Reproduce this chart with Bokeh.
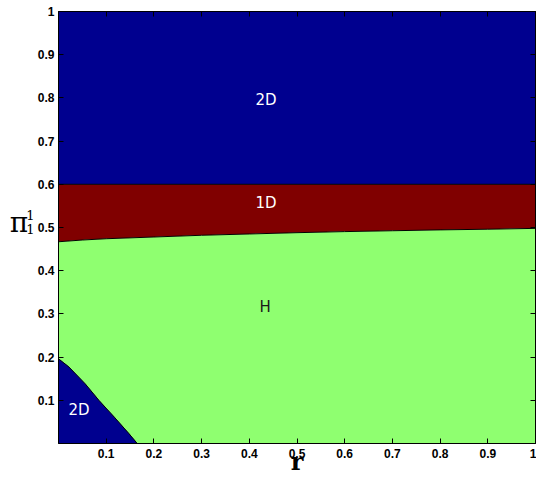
from bokeh.plotting import figure
from bokeh.models import Range1d, FixedTicker, LinearAxis
from bokeh.layouts import row
from bokeh.embed import file_html
from bokeh.resources import INLINE
from bokeh.core.properties import value
import numpy as np

# ---- data ----
R_LIMITS = [0.0, 1.0]
PI_TOP = [1.0, 1.0]
PI_2D_1D = [0.6, 0.6]            # boundary between upper 2D and 1D

R_BOUND = [0.0, 0.05, 0.1, 0.2, 0.3, 0.4, 0.5, 0.6, 0.7, 0.8, 0.9, 1.0]
PI_1D_H = [0.467, 0.471, 0.474, 0.478, 0.482, 0.485, 0.488, 0.4905, 0.4925, 0.4945, 0.496, 0.498]

R_CORNER = [0.0, 0.022, 0.056, 0.085, 0.117, 0.148, 0.165]
PI_CORNER = [0.196, 0.177, 0.138, 0.0995, 0.061, 0.0224, 0.0]

TICKS = [0.1, 0.2, 0.3, 0.4, 0.5, 0.6, 0.7, 0.8, 0.9, 1.0]
TICK_LABELS = ["0.1", "0.2", "0.3", "0.4", "0.5", "0.6", "0.7", "0.8", "0.9", "1"]

REGION_NAMES = ["2D", "1D", "H", "2D"]
REGION_R = [0.435, 0.435, 0.433, 0.043]
REGION_PI = [0.795, 0.557, 0.316, 0.077]
REGION_COLORS = ["white", "white", "#1a1a1a", "white"]

X_LABEL = "r"
Y_LABEL = ["π", "1", "1"]   # pi with superscript 1 and subscript 1

BLUE = "#00008F"
RED = "#800000"
GREEN = "#8FFF70"

LEFT_W = 34
MAIN_W = 536 - LEFT_W
H = 479

p = figure(width=MAIN_W, height=H, output_backend="svg", toolbar_location=None, title=None,
           x_range=Range1d(*R_LIMITS), y_range=Range1d(0, 1),
           min_border_left=22, min_border_right=1, min_border_top=11, min_border_bottom=36)
p.grid.visible = False
p.outline_line_color = "black"
p.outline_line_width = 1
p.background_fill_color = "white"

# regions
p.varea(x=R_LIMITS, y1=PI_2D_1D, y2=PI_TOP, fill_color=BLUE)
p.varea(x=R_BOUND, y1=PI_1D_H, y2=[PI_2D_1D[0]] * len(R_BOUND), fill_color=RED)

r_all = np.unique(np.concatenate([R_BOUND, R_CORNER]))
lower = np.interp(r_all, R_CORNER, PI_CORNER, right=0.0)
upper = np.interp(r_all, R_BOUND, PI_1D_H)
p.varea(x=r_all, y1=lower, y2=upper, fill_color=GREEN)

p.patch(x=[0.0] + R_CORNER, y=[0.0] + PI_CORNER, fill_color=BLUE, line_color=BLUE, line_width=0.5)

# boundary lines
p.line(R_LIMITS, PI_2D_1D, line_color="black", line_width=1)
p.line(R_BOUND, PI_1D_H, line_color="black", line_width=1)
p.line(R_CORNER, PI_CORNER, line_color="black", line_width=1)

# region labels
p.text(x=REGION_R, y=REGION_PI, text=REGION_NAMES, text_color=REGION_COLORS,
       text_align="center", text_baseline="middle",
       text_font=value("DejaVu Sans"), text_font_size="15px")

# axes
ticker = FixedTicker(ticks=TICKS)
overrides = dict(zip(TICKS, TICK_LABELS))
for ax in (p.xaxis[0], p.yaxis[0]):
    ax.ticker = ticker
    ax.major_label_overrides = overrides
    ax.major_label_text_font = "Liberation Sans"
    ax.major_label_text_font_style = "bold"
    ax.major_label_text_font_size = "12px"
    ax.major_label_text_color = "black"
    ax.major_tick_in = 5
    ax.major_tick_out = 0
    ax.minor_tick_line_color = None
    ax.axis_line_color = "black"
    ax.major_tick_line_color = "black"
p.xaxis.major_label_standoff = 5
p.yaxis.major_label_standoff = 4

# x-axis label
p.xaxis.axis_label = X_LABEL
p.xaxis.axis_label_text_font = "DejaVu Serif"
p.xaxis.axis_label_text_font_style = "bold"
p.xaxis.axis_label_text_font_size = "24px"
p.xaxis.axis_label_text_color = "black"
p.xaxis.axis_label_standoff = -14

for loc in ("above", "right"):
    ax = LinearAxis(ticker=ticker, major_label_text_font_size="0px", major_label_text_color=None,
                    major_label_standoff=0,
                    major_tick_in=5, major_tick_out=0, minor_tick_line_color=None,
                    axis_line_color="black", major_tick_line_color="black")
    p.add_layout(ax, loc)

# ---- y-axis label panel (pixel coordinates, y up) ----
left = figure(width=LEFT_W, height=H, output_backend="svg", toolbar_location=None, title=None,
              x_range=Range1d(0, LEFT_W), y_range=Range1d(0, H),
              min_border=0, min_border_left=0, min_border_right=0,
              min_border_top=0, min_border_bottom=0)
left.axis.visible = False
left.grid.visible = False
left.outline_line_color = None
left.text(x=[18.5], y=[245], text=[Y_LABEL[0]], text_align="center", text_baseline="alphabetic",
          text_font=value("DejaVu Serif"), text_font_size="28px", text_color="black")
left.text(x=[30, 30], y=[253, 238], text=Y_LABEL[1:], text_align="center",
          text_baseline="alphabetic", text_font=value("DejaVu Serif"),
          text_font_size="13px", text_color="black")

layout = row(left, p, spacing=0)
open("out.html", "w").write(file_html(layout, INLINE))
